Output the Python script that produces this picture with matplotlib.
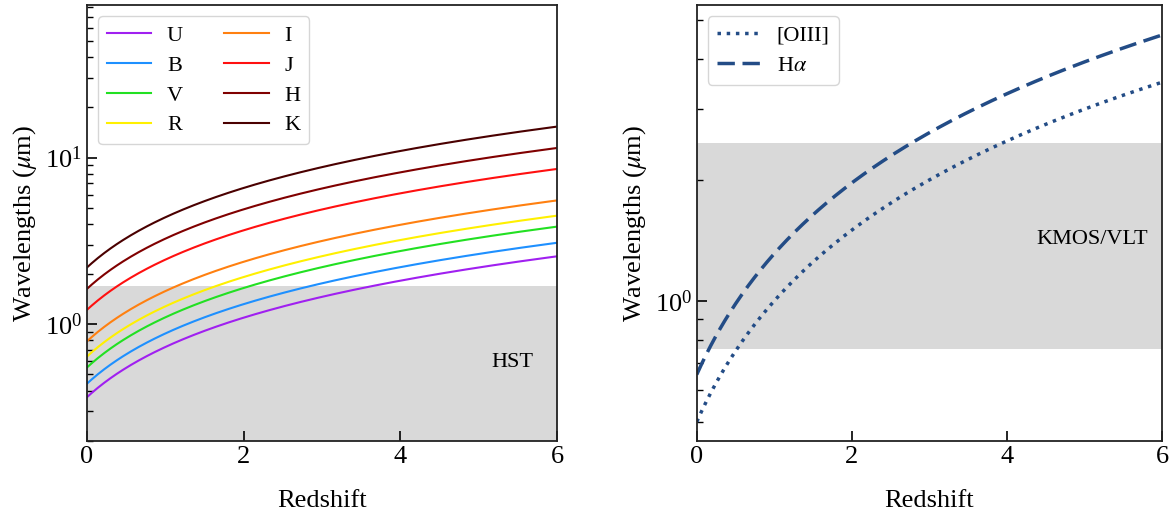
import numpy as np
import matplotlib
matplotlib.use("Agg")
import matplotlib.pyplot as plt
from matplotlib.ticker import NullFormatter, LogLocator

plt.rcParams["font.family"] = ["Liberation Serif", "DejaVu Serif"]
plt.rcParams["mathtext.fontset"] = "stix"

# rest-frame wavelengths (micron)
bands = ["U", "B", "V", "R", "I", "J", "H", "K"]
band_wave = [0.365, 0.44, 0.55, 0.64, 0.79, 1.22, 1.63, 2.19]
band_colors = ["#a020f0", "#1e90ff", "#22e022", "#fff000", "#ff8010", "#ff1010", "#800000", "#4a0000"]

lines = ["[OIII]", r"H$\alpha$"]
line_wave = [0.5007, 0.6563]
line_styles = [":", (0, (5, 2.2))]
line_color = "#234c86"

# instrument coverage (micron)
hst_range = [0.2, 1.7]
kmos_range = [0.76, 2.47]

z = np.linspace(0, 6, 300)

fig = plt.figure(figsize=(11.75, 5.21), dpi=100)
ax1 = fig.add_axes([0.074, 0.154, 0.400, 0.836])
ax2 = fig.add_axes([0.593, 0.154, 0.396, 0.836])

legend_kw = dict(loc="upper left", fontsize=16, frameon=True,
                 handlelength=2.0, labelspacing=0.42, handletextpad=0.7)

# --- left: broad bands vs HST ---
ax1.axhspan(hst_range[0], hst_range[1], color="#d9d9d9", lw=0, zorder=0)
for name, w, c in zip(bands, band_wave, band_colors):
    ax1.plot(z, w * (1 + z), color=c, lw=1.5, label=name)
ax1.text(5.7, 0.59, "HST", fontsize=16, ha="right", va="center")
ax1.set_ylim(0.2, 82)
ax1.legend(ncol=2, columnspacing=1.85, **legend_kw)

# --- right: emission lines vs KMOS ---
ax2.axhspan(kmos_range[0], kmos_range[1], color="#d9d9d9", lw=0, zorder=0)
for name, w, ls in zip(lines, line_wave, line_styles):
    ax2.plot(z, w * (1 + z), color=line_color, lw=2.5, ls=ls, label=name)
ax2.text(5.82, 1.42, "KMOS/VLT", fontsize=16, ha="right", va="center")
ax2.set_ylim(0.449, 5.45)
ax2.legend(**legend_kw)

for ax in (ax1, ax2):
    ax.set_yscale("log")
    ax.set_xlim(0, 6)
    ax.set_xticks([0, 2, 4, 6])
    ax.yaxis.set_minor_locator(LogLocator(base=10, subs=np.arange(2, 10)))
    ax.yaxis.set_minor_formatter(NullFormatter())
    ax.tick_params(which="both", direction="in", top=False, right=False, labelsize=19)
    ax.tick_params(which="major", length=7, width=1.2)
    ax.tick_params(which="minor", length=4, width=1.0)
    ax.set_xlabel("Redshift", fontsize=19, labelpad=16)
    ax.set_ylabel(r"Wavelengths ($\mu$m)", fontsize=19)
    for s in ax.spines.values():
        s.set_linewidth(1.3)
        s.set_color("#222222")
    ax.get_legend().get_frame().set_edgecolor("#cccccc")

fig.savefig("out.png", dpi=100)
